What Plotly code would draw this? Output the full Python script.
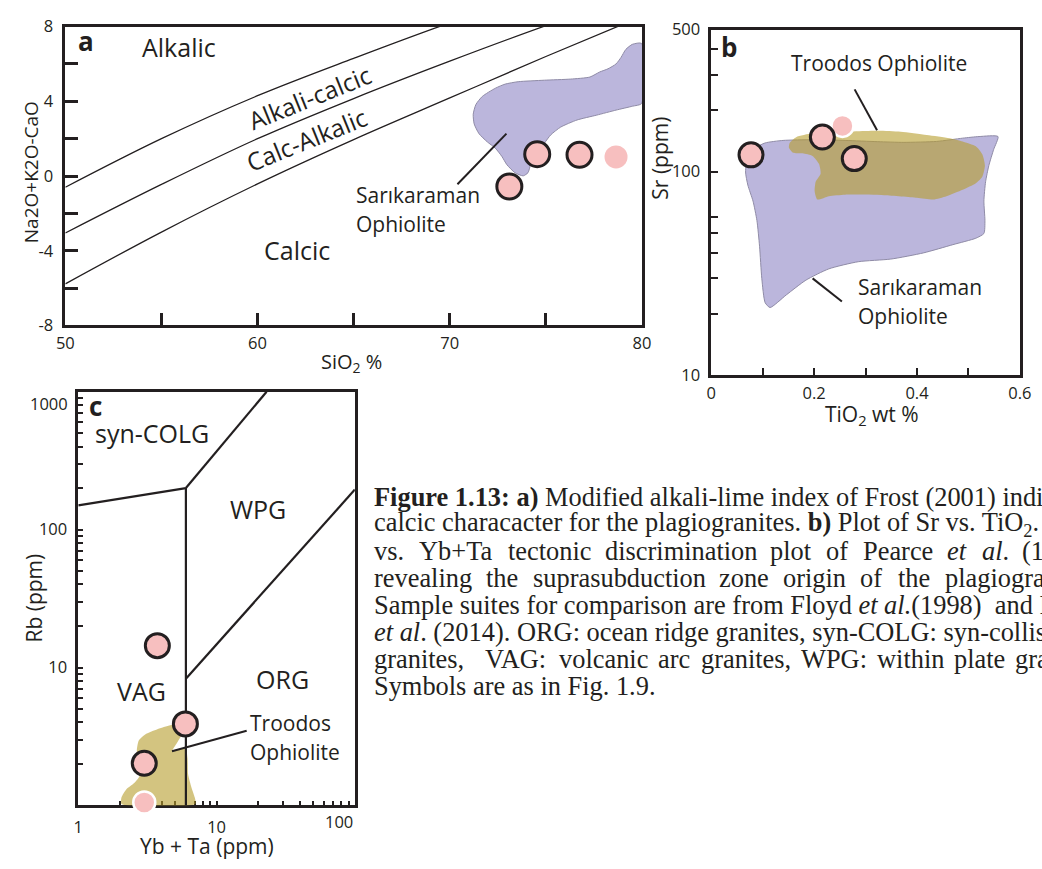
import re
import plotly.graph_objects as go

W, H = 1042, 869
INK = "#231f20"
PINK = "#f7bfbf"
PURPLE = "#bbb6dc"
PURPLE_EDGE = "#8f8ba6"
OLIVE = "rgba(182,157,43,0.6)"
SANS = "Open Sans"
SERIF = "Liberation Serif"

# ---------------- panel a: SiO2 vs modified alkali-lime index ----------------
sio2_grid = [50, 55, 60, 65, 70, 75, 80]
mali_alkalic_alkcalcic = [-0.6, 2.0, 4.3, 6.3, 8.2, 9.9, 11.4]
mali_alkcalcic_calcalk = [-3.05, -0.45, 2.0, 4.15, 6.15, 8.05, 9.8]
mali_calcalk_calcic = [-5.77, -3.0, -0.42, 1.95, 4.18, 6.4, 8.55]

sk_a_sio2 = [79.98, 79.5, 79.16, 78.91, 78.65, 78.23, 77.8, 77.29, 76.28, 74.92, 73.56,
             72.88, 72.37, 71.69, 71.36, 71.22, 71.27, 71.52, 71.95, 72.37, 72.71, 72.97,
             73.39, 73.82, 74.07, 74.21, 74.58, 74.92, 75.26, 75.77, 76.62, 77.64, 78.65,
             79.51, 79.98, 79.98]
sk_a_mali = [7.10, 7.05, 6.78, 6.35, 6.00, 5.74, 5.57, 5.30, 5.19, 5.13, 5.05,
             4.92, 4.70, 4.26, 3.83, 3.31, 2.79, 2.27, 1.83, 1.49, 1.05, 0.61,
             0.18, 0.01, 0.18, 0.61, 1.14, 1.75, 2.21, 2.62, 3.00, 3.26, 3.53,
             3.74, 3.88, 7.10]

a_sio2 = [73.1, 74.55, 76.75]
a_mali = [-0.56, 1.17, 1.14]
a_sio2_plain = [78.65]
a_mali_plain = [1.02]

a_leader_sio2 = [72.95, 70.4]
a_leader_mali = [2.27, -0.44]

# ---------------- panel b: TiO2 vs Sr ----------------
sk_b_tio2 = [0.0667, 0.0711, 0.0857, 0.1048, 0.1396, 0.1968, 0.2602, 0.3238, 0.3745,
             0.4381, 0.4888, 0.5206, 0.5574, 0.549, 0.5396, 0.5333, 0.530, 0.532, 0.530,
             0.5143, 0.4697, 0.4126, 0.3491, 0.2857, 0.2286, 0.184, 0.1459, 0.1143,
             0.1048, 0.0983, 0.0939, 0.0888, 0.0812, 0.0711, 0.0667]
sk_b_sr = [99.7, 119.6, 131.1, 138.5, 142.5, 143.6, 142.5, 140.5, 139.4,
           140.9, 146.2, 148.9, 148.9, 128.7, 107.2, 89.3, 71.7, 57.5, 49.7,
           47.1, 43.8, 39.9, 37.2, 36.1, 33.3, 29.3, 24.8, 21.5,
           22.7, 29.8, 43.0, 57.5, 71.7, 86.0, 99.7]

tr_b_tio2 = [0.1524, 0.165, 0.1968, 0.2411, 0.3238, 0.3682, 0.419, 0.4634, 0.4888, 0.5143,
             0.5269, 0.532, 0.5269, 0.5143, 0.4888, 0.4571, 0.4317, 0.40, 0.3364, 0.2602,
             0.2286, 0.2063, 0.2011, 0.203, 0.2126, 0.2095, 0.1968, 0.1777, 0.1587, 0.151,
             0.1524]
tr_b_sr = [138.5, 147.9, 154.5, 156.7, 159.0, 157.3, 151.7, 146.2, 140.9, 133.4,
           121.8, 107.2, 94.4, 87.7, 81.5, 75.8, 73.0, 74.4, 76.6, 77.1,
           75.8, 73.0, 80.0, 89.3, 97.8, 109.2, 119.6, 123.2, 124.1, 131.1,
           138.5]

b_tio2 = [0.0773, 0.216, 0.278]
b_sr = [121, 148, 116]
b_tio2_plain = [0.255]
b_sr_plain = [168]

b_leader_tr_tio2 = [0.2787, 0.3223]
b_leader_tr_sr = [254, 160]
b_leader_sk_tio2 = [0.197, 0.254]
b_leader_sk_sr = [29.9, 23.0]

# ---------------- panel c: Yb+Ta vs Rb (Pearce et al. 1984) ----------------
c_colg_vag_x, c_colg_vag_y = [1, 6], [150, 200]
c_vag_x, c_vag_y = [6, 6], [1, 200]
c_colg_wpg_x, c_colg_wpg_y = [6, 23], [200, 1000]
c_wpg_org_x, c_wpg_org_y = [6, 100], [8.3, 195]

tr_c_ybta = [2.054, 2.054, 2.228, 2.55, 2.766, 2.695, 2.651, 2.739, 3.083, 3.73, 4.63,
             5.45, 5.91, 5.65, 5.25, 4.81, 5.45, 5.97, 6.17, 6.23, 6.59, 6.95, 7.03, 2.054]
tr_c_rb = [1.025, 1.144, 1.311, 1.461, 1.628, 2.021, 2.512, 2.956, 3.291, 3.569, 3.81,
           3.934, 3.773, 3.291, 2.908, 2.496, 2.554, 2.609, 2.192, 1.674, 1.346, 1.144,
           1.025, 1.025]

c_ybta = [3.73, 5.95, 3.0]
c_rb = [14.4, 3.9, 2.02]
c_ybta_plain = [3.0]
c_rb_plain = [1.05]

c_leader_ybta = [4.76, 16.5]
c_leader_rb = [2.47, 3.48]

fig = go.Figure()


def poly(x, y, xa, ya, fill, edge=None):
    fig.add_trace(go.Scatter(
        x=x, y=y, xaxis=xa, yaxis=ya, mode="lines", fill="toself", fillcolor=fill,
        line=dict(color=edge if edge else "rgba(0,0,0,0)", width=1 if edge else 0,
                  shape="spline", smoothing=0.6),
        hoverinfo="skip"))


def line(x, y, xa, ya, width=1.3, shape="linear"):
    fig.add_trace(go.Scatter(
        x=x, y=y, xaxis=xa, yaxis=ya, mode="lines",
        line=dict(color=INK, width=width, shape=shape), hoverinfo="skip"))


def samples(x, y, xa, ya, size, edge_color, edge_width):
    fig.add_trace(go.Scatter(
        x=x, y=y, xaxis=xa, yaxis=ya, mode="markers", cliponaxis=False,
        marker=dict(size=size, color=PINK, line=dict(color=edge_color, width=edge_width)),
        hoverinfo="skip"))


# panel a
poly(sk_a_sio2, sk_a_mali, "x", "y", PURPLE, PURPLE_EDGE)
for curve in (mali_alkalic_alkcalcic, mali_alkcalcic_calcalk, mali_calcalk_calcic):
    line(sio2_grid, curve, "x", "y", 1.3, "spline")
line(a_leader_sio2, a_leader_mali, "x", "y", 2)
samples(a_sio2_plain, a_mali_plain, "x", "y", 23, PINK, 0)
samples(a_sio2, a_mali, "x", "y", 25, INK, 3)

# panel b
poly(sk_b_tio2, sk_b_sr, "x2", "y2", PURPLE, PURPLE_EDGE)
poly(tr_b_tio2, tr_b_sr, "x2", "y2", OLIVE)
line(b_leader_tr_tio2, b_leader_tr_sr, "x2", "y2", 2)
line(b_leader_sk_tio2, b_leader_sk_sr, "x2", "y2", 2)
samples(b_tio2_plain, b_sr_plain, "x2", "y2", 22, "white", 2.5)
samples(b_tio2, b_sr, "x2", "y2", 24, INK, 3)

# panel c
poly(tr_c_ybta, tr_c_rb, "x3", "y3", OLIVE)
for bx, by in ((c_colg_vag_x, c_colg_vag_y), (c_vag_x, c_vag_y),
               (c_colg_wpg_x, c_colg_wpg_y), (c_wpg_org_x, c_wpg_org_y)):
    line(bx, by, "x3", "y3", 2.2)
line(c_leader_ybta, c_leader_rb, "x3", "y3", 2)
samples(c_ybta, c_rb, "x3", "y3", 24, INK, 3)
samples(c_ybta_plain, c_rb_plain, "x3", "y3", 22, "white", 2.5)


def dom_x(p0, p1):
    return [p0 / W, p1 / W]


def dom_y(top, bottom):
    return [1 - bottom / H, 1 - top / H]


def axis(**kw):
    base = dict(showline=True, mirror=True, linewidth=2.5, linecolor=INK, ticks="inside",
                tickcolor=INK, showgrid=False, zeroline=False,
                tickfont=dict(family=SANS, size=16.5, color=INK))
    base.update(kw)
    return base


def labels(vals, shown):
    return [str(v) if v in shown else "" for v in vals]


ax_a_x = [50, 55, 60, 65, 70, 75, 80]
ax_a_y = [-8, -6, -4, -2, 0, 2, 4, 6, 8]
ax_b_x = [0, 0.1, 0.2, 0.3, 0.4, 0.5, 0.6]
ax_b_x_text = ["0", "", "0.2", "", "0.4", "", "0.6"]
ax_b_y = [10, 20, 30, 40, 50, 60, 100, 200, 300, 400, 500]
ax_c_x = [1, 2, 3, 4, 5, 6, 7, 8, 9, 10, 20, 30, 40, 50, 60, 70, 80, 90, 100]
ax_c_y = [1, 2, 3, 4, 5, 6, 7, 8, 9, 10, 20, 30, 40, 50, 60, 70, 80, 90,
          100, 200, 300, 400, 500, 600, 700, 800, 900, 1000]

layout_axes = dict(
    xaxis=axis(domain=dom_x(57.5, 646), range=[50, 80], anchor="y",
               tickvals=ax_a_x, ticktext=labels(ax_a_x, {50, 60, 70, 80}),
               ticklen=13, tickwidth=2.5, ticklabelstandoff=1),
    yaxis=axis(domain=dom_y(15, 322), range=[-8, 8], anchor="x",
               tickvals=ax_a_y, ticktext=labels(ax_a_y, {-8, -4, 0, 4, 8}),
               ticklen=13, tickwidth=2.5, ticklabelstandoff=6),
    xaxis2=axis(domain=dom_x(716.7, 1031.7), range=[0, 0.6], anchor="y2",
                tickvals=ax_b_x, ticktext=ax_b_x_text,
                ticklen=7, tickwidth=2, ticklabelstandoff=1),
    yaxis2=axis(domain=dom_y(18, 373), type="log", range=[1, 2.699], anchor="x2",
                tickvals=ax_b_y, ticktext=labels(ax_b_y, {10, 100, 500}),
                ticklen=7, tickwidth=2, ticklabelstandoff=5),
    # bottom frame of panel c sits under the traces so the edge sample covers it
    xaxis3=axis(domain=dom_x(70.7, 353), type="log", range=[0, 2], anchor="y3",
                tickvals=ax_c_x, ticktext=labels(ax_c_x, {1, 10}), layer="below traces",
                ticklen=5, tickwidth=1.5, ticklabelstandoff=5),
    yaxis3=axis(domain=dom_y(390, 815), type="log", range=[0, 3], anchor="x3",
                tickvals=ax_c_y, ticktext=labels(ax_c_y, {10, 100}),
                ticklen=5, tickwidth=1.5, ticklabelstandoff=5),
)


def ann(text, px, py, size, family=SANS, xanchor="center", angle=0, color=INK):
    return dict(text=text, x=px / W, y=1 - py / H, xref="paper", yref="paper",
                xanchor=xanchor, yanchor="middle", showarrow=False, textangle=angle,
                font=dict(size=size, family=family, color=color))


annotations = [
    # panel a
    ann("<b>a</b>", 79, 30, 26),
    ann("Alkalic", 173, 36, 25),
    ann("Alkali-calcic", 307, 88, 24.5, angle=-22),
    ann("Calc-Alkalic", 304, 131, 24.5, angle=-22),
    ann("Calcic", 294, 244, 25),
    ann("Sarıkaraman", 352, 188, 21, xanchor="left"),
    ann("Ophiolite", 352, 218, 21, xanchor="left"),
    ann("Na2O+K2O-CaO", 22, 165, 19, angle=-90),
    ann("SiO<sub>2</sub> %", 350, 360, 20),
    # panel b
    ann("<b>b</b>", 735, 36, 26),
    ann("Troodos Ophiolite", 888, 52, 21),
    ann("Sarıkaraman", 864, 282, 21, xanchor="left"),
    ann("Ophiolite", 864, 312, 21, xanchor="left"),
    ann("Sr (ppm)", 664, 150, 21, angle=-90),
    ann("TiO<sub>2</sub> wt %", 881, 414, 21),
    # panel c
    ann("<b>c</b>", 88, 405, 26),
    ann("syn-COLG", 146, 432, 25),
    ann("WPG", 254, 511, 25),
    ann("VAG", 135, 697, 25),
    ann("ORG", 279, 685, 25),
    ann("Troodos", 244, 730, 21, xanchor="left"),
    ann("Ophiolite", 244, 760, 21, xanchor="left"),
    ann("Rb (ppm)", 26, 602, 21, angle=-90),
    ann("Yb + Ta (ppm)", 202, 857, 21),
    ann("100", 337, 831, 16.5),
    ann("1000", 62, 402, 16.5, xanchor="right"),
]

# ---------------- caption ----------------
CAP = 26.4
CAP_X = 370.7
CAP_TOP = 498
CAP_STEP = 27.7
TIMES_ADV = {
    "a": 444, "b": 500, "c": 444, "d": 500, "e": 444, "f": 333, "g": 500, "h": 500,
    "i": 278, "j": 278, "k": 500, "l": 278, "m": 778, "n": 500, "o": 500, "p": 500,
    "q": 500, "r": 333, "s": 389, "t": 278, "u": 500, "v": 500, "w": 722, "x": 500,
    "y": 500, "z": 444, "A": 722, "C": 667, "G": 722, "L": 611, "O": 722, "P": 556,
    "R": 667, "T": 611, "V": 722, "W": 944, "Y": 722, ".": 250, ",": 250, ":": 278,
    "(": 333, ")": 333, "+": 564, " ": 250,
}


def serif_width(html):
    plain = re.sub(r"<[^>]+>", "", html)
    return sum(TIMES_ADV.get(ch, 500) for ch in plain) * CAP / 1000.0


def row_y(i):
    return CAP_TOP + CAP_STEP * i


def cap_line(text, row):
    annotations.append(ann(text, CAP_X, row_y(row), CAP, family=SERIF, xanchor="left"))


def cap_justified(words, row, last_left, weights=None):
    widths = [serif_width(w) for w in words]
    weights = weights or [1] * (len(words) - 1)
    unit = (last_left - CAP_X - sum(widths[:-1])) / sum(weights)
    x = CAP_X
    for i, w in enumerate(words):
        annotations.append(ann(w, x, row_y(row), CAP, family=SERIF, xanchor="left"))
        if i < len(weights):
            x += widths[i] + unit * weights[i]


cap_line("<b>Figure 1.13: a)</b> Modified alkali-lime index of Frost (2001) indicating", 0)
cap_line("calcic characacter for the plagiogranites. <b>b)</b> Plot of Sr vs. TiO<sub>2</sub>.", 1)
cap_justified(["vs.", "Yb+Ta", "tectonic", "discrimination", "plot", "of", "Pearce",
               "<i>et</i>", "<i>al</i>.", "(1984)"], 2, 1032)
cap_justified(["revealing", "the", "suprasubduction", "zone", "origin", "of", "the",
               "plagiogranites."], 3, 953)
cap_line("Sample suites for comparison are from Floyd <i>et al.</i>(1998)\u00a0 and F", 4)
cap_line("<i>et al</i>. (2014). ORG: ocean ridge granites, syn-COLG: syn-collisional", 5)
cap_justified(["granites,", "VAG:", "volcanic", "arc", "granites,", "WPG:", "within",
               "plate", "granites."], 6, 1025, weights=[2, 1, 1, 1, 1, 1, 1, 1])
cap_line("Symbols are as in Fig. 1.9.", 7)

fig.update_layout(
    width=W, height=H, margin=dict(l=0, r=0, t=0, b=0),
    paper_bgcolor="white", plot_bgcolor="white", showlegend=False,
    annotations=annotations, **layout_axes)

fig.write_html("out.html")
